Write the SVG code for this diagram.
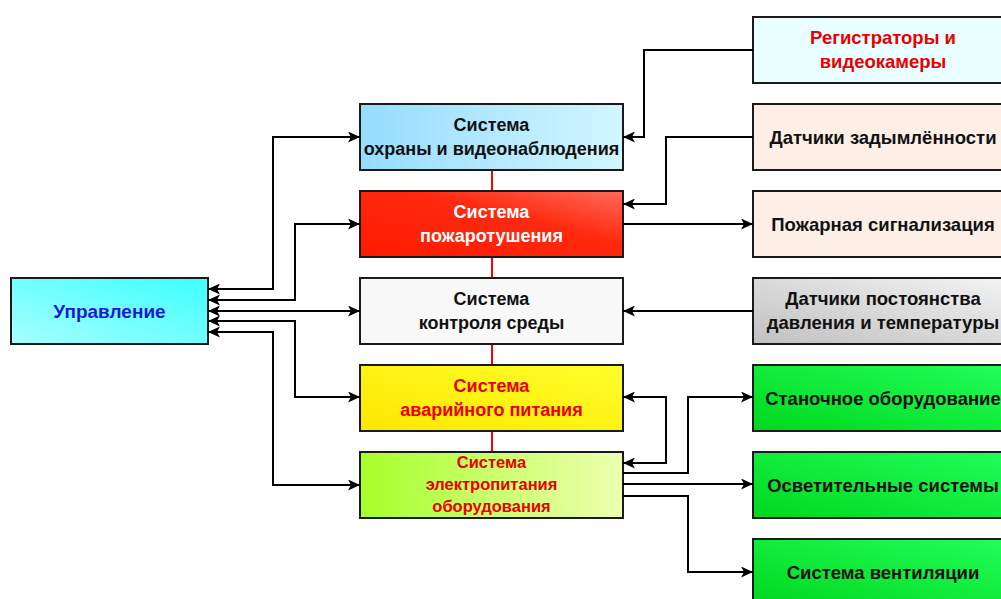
<svg xmlns="http://www.w3.org/2000/svg" width="1001" height="599" viewBox="0 0 1001 599">
<style>
.box{stroke:#1a1a1a;stroke-width:2}
.t{font-family:"Liberation Sans",Arial,sans-serif;font-weight:bold;font-size:18px;text-anchor:middle;fill:#111}
.r{font-size:18.5px}
.s{font-size:16.5px}
.u{font-size:19px}
.red{fill:#e80000}
.wh{fill:#ffffff}
.bl{fill:#1a1ad0}
.c{fill:none;stroke:#000;stroke-width:2}
</style>
<defs>
<marker id="ah" viewBox="0 0 12 11" refX="12" refY="5.5" markerWidth="12" markerHeight="11" markerUnits="userSpaceOnUse" orient="auto-start-reverse"><path d="M0,0 L12,5.5 L0,11 L3,5.5 z" fill="#000"/></marker>
<linearGradient id="gU" x1="0" y1="1" x2="1" y2="0"><stop offset="0" stop-color="#a8ffff"/><stop offset="1" stop-color="#3cffff"/></linearGradient>
<linearGradient id="g1" x1="0" y1="0" x2="1" y2="0"><stop offset="0" stop-color="#96dcff"/><stop offset="1" stop-color="#d2f6ff"/></linearGradient>
<linearGradient id="g2" x1="0" y1="1" x2="1" y2="0"><stop offset="0" stop-color="#ff1a00"/><stop offset="0.6" stop-color="#ff2a10"/><stop offset="1" stop-color="#ff6a5a"/></linearGradient>
<linearGradient id="g4" x1="0" y1="1" x2="1" y2="0"><stop offset="0" stop-color="#ffe600"/><stop offset="1" stop-color="#ffff2a"/></linearGradient>
<linearGradient id="g5" x1="0" y1="0" x2="1" y2="0"><stop offset="0" stop-color="#a6ff2a"/><stop offset="1" stop-color="#eeffb0"/></linearGradient>
<linearGradient id="gR4" x1="0" y1="1" x2="1" y2="0"><stop offset="0" stop-color="#c0c0c0"/><stop offset="1" stop-color="#f4f4f4"/></linearGradient>
<linearGradient id="gG" x1="0" y1="1" x2="1" y2="0"><stop offset="0" stop-color="#00d81e"/><stop offset="1" stop-color="#22ff5a"/></linearGradient>
</defs>
<line x1="492" y1="170" x2="492" y2="452" stroke="#ff0000" stroke-width="2"/>
<g id="upravlenie"><rect class="box" x="11" y="278" width="197" height="66" fill="url(#gU)"/><text class="t u bl" x="109.5" y="318">Управление</text></g>
<g id="ohrana"><rect class="box" x="360" y="104" width="263" height="66" fill="url(#g1)"/><text class="t" x="491.5" y="131">Система</text><text class="t" x="491.5" y="155">охраны и видеонаблюдения</text></g>
<g id="pozhar"><rect class="box" x="360" y="191" width="263" height="66" fill="url(#g2)"/><text class="t wh" x="491.5" y="218">Система</text><text class="t wh" x="491.5" y="242">пожаротушения</text></g>
<g id="kontrol"><rect class="box" x="360" y="278" width="263" height="66" fill="#f8f8f8"/><text class="t" x="491.5" y="305">Система</text><text class="t" x="491.5" y="329">контроля среды</text></g>
<g id="avariyn"><rect class="box" x="360" y="365" width="263" height="66" fill="url(#g4)"/><text class="t red" x="491.5" y="392">Система</text><text class="t red" x="491.5" y="416">аварийного питания</text></g>
<g id="elektro"><rect class="box" x="360" y="452" width="263" height="66" fill="url(#g5)"/><text class="t s red" x="491.5" y="468">Система</text><text class="t s red" x="491.5" y="490">электропитания</text><text class="t s red" x="491.5" y="512">оборудования</text></g>
<g id="registr"><rect class="box" x="753" y="17" width="262" height="66" fill="#eaffff"/><text class="t r red" x="883" y="44">Регистраторы и</text><text class="t r red" x="883" y="68">видеокамеры</text></g>
<g id="dym"><rect class="box" x="753" y="104" width="262" height="66" fill="#fdeee6"/><text class="t r" x="883" y="144">Датчики задымлённости</text></g>
<g id="signal"><rect class="box" x="753" y="191" width="262" height="66" fill="#fdeee6"/><text class="t r" x="883" y="231">Пожарная сигнализация</text></g>
<g id="davlenie"><rect class="box" x="753" y="278" width="262" height="66" fill="url(#gR4)"/><text class="t r" x="883" y="305">Датчики постоянства</text><text class="t r" x="883" y="329">давления и температуры</text></g>
<g id="stanok"><rect class="box" x="753" y="365" width="262" height="66" fill="url(#gG)"/><text class="t r" x="883" y="405">Станочное оборудование</text></g>
<g id="osvet"><rect class="box" x="753" y="452" width="262" height="66" fill="url(#gG)"/><text class="t r" x="883" y="492">Осветительные системы</text></g>
<g id="vent"><rect class="box" x="753" y="539" width="262" height="66" fill="url(#gG)"/><text class="t r" x="883" y="579">Система вентиляции</text></g>
<g id="connectors">
<path class="c" d="M208,289 H273 V137 H360" marker-start="url(#ah)" marker-end="url(#ah)"/>
<path class="c" d="M208,300 H295 V224 H360" marker-start="url(#ah)" marker-end="url(#ah)"/>
<path class="c" d="M208,311 H360" marker-start="url(#ah)" marker-end="url(#ah)"/>
<path class="c" d="M208,321 H295 V397 H360" marker-start="url(#ah)" marker-end="url(#ah)"/>
<path class="c" d="M208,332 H273 V485 H360" marker-start="url(#ah)" marker-end="url(#ah)"/>
<path class="c" d="M753,50 H644 V137 H623" marker-end="url(#ah)"/>
<path class="c" d="M753,137 H666 V204 H623" marker-end="url(#ah)"/>
<path class="c" d="M623,224 H753" marker-end="url(#ah)"/>
<path class="c" d="M753,311 H623" marker-end="url(#ah)"/>
<path class="c" d="M623,397 H666 V463 H623" marker-start="url(#ah)" marker-end="url(#ah)"/>
<path class="c" d="M623,473 H688 V397 H753" marker-end="url(#ah)"/>
<path class="c" d="M623,484 H753" marker-end="url(#ah)"/>
<path class="c" d="M623,496 H688 V572 H753" marker-end="url(#ah)"/>
</g>
</svg>
